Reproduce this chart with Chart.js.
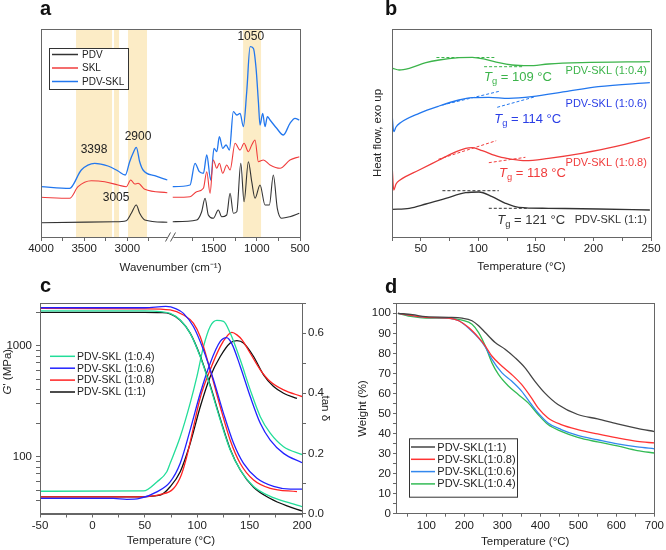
<!DOCTYPE html>
<html>
<head>
<meta charset="utf-8">
<script src="https://cdn.jsdelivr.net/npm/chart.js@4.4.1/dist/chart.umd.min.js"></script>
<style>
  body { margin: 0; background: #fff; width: 666px; height: 550px; position: relative; overflow: hidden; font-family: "Liberation Sans", Arial, sans-serif; }
  .panel { position: absolute; width: 333px; height: 275px; }
  .tag { position: absolute; font-weight: bold; font-size: 20px; line-height: 20px; color: #111; }
</style>
</head>
<body>
<div class="panel" style="left:0;top:0"><canvas id="chartA" width="333" height="275"></canvas></div>
<div class="panel" style="left:333px;top:0"><canvas id="chartB" width="333" height="275"></canvas></div>
<div class="panel" style="left:0;top:275px"><canvas id="chartC" width="333" height="275"></canvas></div>
<div class="panel" style="left:333px;top:275px"><canvas id="chartD" width="333" height="275"></canvas></div>
<div class="tag" style="left:40px;top:-2px">a</div>
<div class="tag" style="left:385px;top:-2px">b</div>
<div class="tag" style="left:40px;top:275px">c</div>
<div class="tag" style="left:385px;top:276px">d</div>
<script>
// ---- a: FTIR (wavenumber, arbitrary absorbance) ----
const pdvWave = [4000, 3146, 3012, 2954, 2896, 2857, 2798, 2537, 1974, 1697, 1639, 1600, 1562, 1504, 1446, 1407, 1349, 1310, 1272, 1232, 1186, 1148, 1098, 1059, 1021, 963, 905, 855, 809, 763, 713, 616, 508];
const pdvAbs = [14.3, 15.3, 16.3, 23.7, 32, 23.7, 17, 14.7, 15.3, 17, 25.3, 38.7, 22, 18.7, 27, 20.3, 22, 43.7, 23.7, 25.3, 73.7, 35.3, 75.3, 55.3, 38.7, 52, 32, 32, 62, 28.7, 18.7, 20.3, 23.7];
const sklWave = [4000, 3668, 3571, 3417, 3262, 3108, 3012, 2961, 2914, 2876, 2798, 2537, 1974, 1774, 1697, 1619, 1580, 1542, 1504, 1464, 1434, 1395, 1349, 1310, 1252, 1194, 1148, 1098, 1059, 1021, 982, 924, 847, 731, 616, 508];
const sklAbs = [39.7, 38.7, 50.3, 56.3, 55.3, 52, 50.3, 57, 53, 53.7, 47.7, 44.3, 39.7, 40.3, 45.3, 48.7, 65.3, 43.7, 77, 68.7, 73.7, 63.7, 72, 67, 93.7, 87, 93.7, 85.3, 92, 97, 75.3, 77, 72, 68.7, 77, 80.3];
const blendWave = [4000, 3668, 3533, 3378, 3224, 3108, 3023, 2973, 2934, 2896, 2857, 2818, 2683, 2537, 1974, 1774, 1716, 1666, 1619, 1580, 1534, 1496, 1464, 1434, 1395, 1356, 1318, 1272, 1232, 1194, 1156, 1117, 1078, 1040, 1009, 982, 963, 932, 905, 878, 847, 770, 693, 616, 558, 508];
const blendAbs = [50.3, 48.7, 67, 73.7, 71, 66, 62, 75.3, 83.7, 89.7, 75.3, 67, 61.3, 57, 50.3, 52, 73.7, 65.3, 63.7, 82, 57, 88.7, 85.3, 100.3, 88.7, 92, 87, 125.3, 122, 123.7, 110.3, 145.3, 190.3, 188.7, 168.7, 135.3, 112, 123.7, 110.3, 120.3, 117, 108.7, 102, 113.7, 118.7, 117];
const bandFrom = [3594, 3154, 2992, 1159];
const bandTo = [3177, 3096, 2772, 951];
const waveLabels = [4000, 3500, 3000, 1500, 1000, 500];
const waveTicks = [4000, 3750, 3500, 3250, 3000, 2750, 1750, 1500, 1250, 1000, 750, 500];

// ---- b: DSC (temperature, arbitrary heat flow) ----
const dscT04 = [25.6, 31.3, 40, 54.4, 65.9, 83.2, 94.7, 106.3, 117.8, 129.3, 143.7, 161, 189.8, 249];
const dscH04 = [168.7, 167, 168.7, 174.3, 177, 179.3, 179.7, 177.7, 174.3, 172, 171.3, 173, 174.3, 175.3];
const dscT06 = [25, 26.5, 28.5, 32, 48.6, 65.9, 83.2, 94.7, 109.1, 126.4, 146.6, 175.4, 204.2, 249];
const dscH06 = [123.7, 105.3, 110, 114, 123.7, 131, 137, 139.3, 139.7, 138.7, 140.3, 145.3, 150.3, 154.3];
const dscT08 = [25, 26.5, 28.5, 32, 48.6, 65.9, 77.4, 89, 94.7, 103.4, 117.8, 129.3, 140.9, 161, 189.8, 218.7, 249];
const dscH08 = [73.7, 47, 53, 57, 67, 77, 83.7, 88.7, 89.3, 86.3, 80.3, 77.7, 76.3, 78.7, 83.7, 90.3, 99.7];
const dscT11 = [25, 40, 54.4, 71.7, 89, 100.5, 112, 123.6, 135.1, 161, 204.2, 249];
const dscH11 = [27.7, 28.7, 33, 38.7, 44.3, 45, 40.3, 33.7, 29.7, 28.7, 28, 27];
// tangent construction lines [T1, H1, T2, H2]
const tan04 = [[63.6, 179.5, 113.9, 179.5], [105, 170.3, 139.6, 170.3]];
const tan06 = [[68.8, 132, 119.2, 146], [116.4, 129.7, 149.5, 140.3]];
const tan08 = [[65.3, 77.7, 115.5, 96.3], [109.1, 74.3, 140.9, 79.7]];
const tan11 = [[68.8, 46.3, 117.8, 46.3], [109.1, 28.7, 143.7, 28.7]];
const tgValues = [109, 114, 118, 121];

// ---- c: DMA ----
const gT04 = [-50, 50, 65, 74.2, 83.8, 93.3, 102.9, 112.4, 122, 131.5, 141.1, 153.8, 169.7, 185.7, 200];
const gG04 = [2060, 2060, 2030, 1958, 1706, 1294, 796, 428, 214, 115, 76, 54, 44, 39, 35.5];
const gT06 = [-50, 50, 70, 80, 86.9, 96.5, 106, 115.6, 125.1, 134.7, 144.2, 157, 172.9, 188.8, 200];
const gG06 = [2200, 2200, 2260, 2150, 1958, 1483, 915, 491, 246, 132, 87, 64, 54, 51, 51];
const gT08 = [-50, 50, 74.2, 86.9, 96.5, 102.9, 112.4, 122, 131.5, 141.1, 153.8, 169.7, 195.2];
const gG08 = [2170, 2150, 2100, 1892, 1592, 1205, 604, 282, 141, 87, 61.7, 51.9, 48.4];
const gT11 = [-50, 50, 65, 74.2, 83.8, 93.3, 102.9, 112.4, 122, 131.5, 141.1, 153.8, 169.7, 185.7, 200];
const gG11 = [2000, 2000, 1990, 1940, 1700, 1300, 810, 440, 220, 117, 76, 53, 42, 36, 32.5];
const dT04 = [-50, 48.7, 61.5, 71, 74.2, 83.8, 93.3, 99.7, 106, 112.4, 118.8, 125.1, 131.5, 141.1, 150.6, 160.2, 169.7, 182.4, 200];
const dD04 = [0.074, 0.075, 0.105, 0.139, 0.167, 0.255, 0.367, 0.455, 0.555, 0.622, 0.642, 0.639, 0.6, 0.511, 0.411, 0.322, 0.267, 0.222, 0.196];
const dT06 = [-50, 20, 32.8, 45, 61.5, 74.2, 83.8, 93.3, 102.9, 112.4, 122, 128, 133, 141.1, 150.6, 160.2, 169.7, 182.4, 200];
const dD06 = [0.05, 0.05, 0.047, 0.05, 0.072, 0.105, 0.167, 0.278, 0.4, 0.5, 0.572, 0.585, 0.565, 0.489, 0.389, 0.3, 0.244, 0.2, 0.169];
const dT08 = [-50, 40, 64.6, 77.4, 85, 90.1, 96, 102.9, 112.4, 122, 128.3, 133.1, 137.9, 142.6, 150.6, 160.2, 169.7, 182.4, 200];
const dD08 = [0.055, 0.055, 0.063, 0.083, 0.13, 0.19, 0.28, 0.385, 0.478, 0.555, 0.589, 0.602, 0.594, 0.578, 0.533, 0.478, 0.439, 0.411, 0.389];
const dT11 = [-50, 40, 64.6, 74.2, 83.8, 93.3, 102.9, 112.4, 122, 131.5, 137.9, 144.2, 153.8, 163.3, 172.9, 182.4, 195.2];
const dD11 = [0.055, 0.055, 0.061, 0.089, 0.139, 0.233, 0.355, 0.455, 0.522, 0.567, 0.575, 0.567, 0.522, 0.461, 0.422, 0.4, 0.383];

// ---- d: TGA ----
const tgaT11 = [25, 63.5, 98.3, 159, 193.9, 220, 237.4, 254.8, 280.9, 307, 333, 359.1, 385.2, 411.3, 446.1, 498.3, 550.4, 602.6, 654.8, 700];
const tgaW11 = [100, 99.3, 98.3, 98, 97.6, 96.3, 93.8, 90.4, 85.4, 82.1, 77.9, 72.9, 66.2, 60.3, 54.5, 49.5, 47.3, 44.8, 42.6, 41];
const tgaT08 = [25, 63.5, 98.3, 159, 185.2, 211.3, 237.4, 254.8, 272.2, 298.3, 324.3, 350.4, 376.5, 393.9, 420, 454.8, 498.3, 550.4, 602.6, 654.8, 700];
const tgaW08 = [100, 98.8, 98, 97.6, 96.3, 92.9, 87.9, 83.8, 78.7, 73.7, 69.5, 64.5, 57.8, 52.8, 47.8, 44.5, 42, 39.8, 37.8, 36.1, 35.3];
const tgaT06 = [25, 63.5, 98.3, 159, 185.2, 211.3, 237.4, 254.8, 272.2, 298.3, 324.3, 350.4, 376.5, 393.9, 420, 454.8, 498.3, 550.4, 602.6, 654.8, 700];
const tgaW06 = [100, 98.8, 98, 97.6, 96.3, 92.6, 87.6, 83.3, 77.1, 70.4, 66.2, 61.2, 54.5, 50.3, 45.3, 42, 39.1, 36.9, 34.8, 33.3, 32.4];
const tgaT04 = [25, 63.5, 98.3, 159, 193.9, 220, 237.4, 254.8, 272.2, 289.6, 315.7, 341.7, 367.8, 393.9, 420, 454.8, 498.3, 550.4, 602.6, 654.8, 700];
const tgaW04 = [100, 98.3, 97.6, 97.5, 96.6, 94.6, 90.4, 83.8, 75.4, 69.5, 63.7, 59.5, 55.3, 49.5, 44.5, 41.1, 38.1, 35.8, 33.8, 31.5, 30.3];

const FONT = '"Liberation Sans", Arial, sans-serif';
Chart.defaults.font.family = FONT;
Chart.defaults.font.size = 11.5;
Chart.defaults.color = '#222';
Chart.defaults.animation = false;
Chart.defaults.plugins.legend.display = false;
Chart.defaults.plugins.tooltip.enabled = false;
Chart.defaults.elements.point.radius = 0;
Chart.defaults.elements.line.borderWidth = 1.3;
Chart.defaults.elements.line.cubicInterpolationMode = 'monotone';

const pts = (xs, ys) => xs.map((x, i) => ({ x, y: ys[i] }));
const steps = (a, b, s) => { const out = []; for (let v = a; v <= b + 1e-9; v += s) out.push(+v.toFixed(3)); return out; };
const setTicks = values => scale => { scale.ticks = values.map(value => ({ value })); };
const fixWidth = w => scale => { scale.width = w; };
const fixHeight = h => scale => { scale.height = h; };
const tickGrid = len => ({ drawOnChartArea: false, tickLength: len, color: '#666' });

// broken wavenumber axis: 4000-2500 | 2000-500
const BREAK_HI = 2500, BREAK_LO = 2000;
const toU = w => (w >= BREAK_HI ? 4000 - w : (4000 - BREAK_HI) + (BREAK_LO - w));
const fromU = u => Math.round(u <= 4000 - BREAK_HI ? 4000 - u : BREAK_LO - (u - (4000 - BREAK_HI)));
const spectrum = (waves, vals) => {
  const out = [];
  waves.forEach((w, i) => {
    if (i > 0 && waves[i - 1] >= BREAK_HI && w <= BREAK_LO) out.push({ x: toU(BREAK_HI), y: null });
    out.push({ x: toU(w), y: vals[i] });
  });
  return out;
};

function drawParts(ctx, parts, x, y, align, size, color) {
  const fontFor = p => `${p.italic ? 'italic ' : ''}${p.sub ? size * 0.72 : size}px ${FONT}`;
  let total = 0;
  const widths = parts.map(p => { ctx.font = fontFor(p); const w = ctx.measureText(p.text).width; total += w; return w; });
  let cx = align === 'right' ? x - total : align === 'center' ? x - total / 2 : x;
  ctx.fillStyle = color;
  ctx.textAlign = 'left';
  ctx.textBaseline = 'middle';
  parts.forEach((p, i) => {
    ctx.font = fontFor(p);
    ctx.fillText(p.text, cx, p.sub ? y + size * 0.32 : y);
    cx += widths[i];
  });
}

const framePlugin = {
  id: 'frame',
  afterDatasetsDraw(chart) {
    const { ctx, chartArea: a } = chart;
    ctx.save();
    ctx.strokeStyle = '#666';
    ctx.lineWidth = 1;
    ctx.strokeRect(Math.round(a.left) + 0.5, Math.round(a.top) + 0.5, Math.round(a.width), Math.round(a.height));
    ctx.restore();
  }
};

const bandsPlugin = {
  id: 'bands',
  beforeDatasetsDraw(chart, args, opts) {
    const { ctx, chartArea: a, scales: { x } } = chart;
    ctx.save();
    ctx.fillStyle = opts.color;
    opts.from.forEach((w, i) => {
      const x1 = x.getPixelForValue(opts.map(w)), x2 = x.getPixelForValue(opts.map(opts.to[i]));
      ctx.fillRect(x1, a.top, x2 - x1, a.height);
    });
    ctx.restore();
  }
};

const notesPlugin = {
  id: 'notes',
  afterDraw(chart, args, opts) {
    const ctx = chart.ctx;
    (opts.items || []).forEach(n => {
      ctx.save();
      let px = n.px, py = n.py;
      if (px === undefined) {
        px = chart.scales.x.getPixelForValue(n.x);
        py = chart.scales[n.axis || 'y'].getPixelForValue(n.y);
      }
      ctx.translate(px, py);
      if (n.rotate) ctx.rotate(n.rotate * Math.PI / 180);
      drawParts(ctx, n.parts, 0, 0, n.align || 'left', n.size || 12, n.color || '#222');
      ctx.restore();
    });
  }
};

const keyPlugin = {
  id: 'key',
  afterDraw(chart, args, o) {
    const ctx = chart.ctx;
    ctx.save();
    if (o.box) {
      ctx.fillStyle = '#fff';
      ctx.strokeStyle = '#333';
      ctx.lineWidth = 1;
      ctx.fillRect(o.box[0], o.box[1], o.box[2], o.box[3]);
      ctx.strokeRect(o.box[0] + 0.5, o.box[1] + 0.5, o.box[2], o.box[3]);
    }
    chart.data.datasets.filter(d => d.label).forEach((d, i) => {
      const y = o.y + i * o.step;
      ctx.strokeStyle = d.borderColor;
      ctx.lineWidth = 1.5;
      ctx.beginPath();
      ctx.moveTo(o.x1, y);
      ctx.lineTo(o.x2, y);
      ctx.stroke();
      ctx.fillStyle = '#222';
      ctx.font = `${o.size}px ${FONT}`;
      ctx.textAlign = 'left';
      ctx.textBaseline = 'middle';
      ctx.fillText(d.label, o.tx, y + 0.5);
    });
    ctx.restore();
  }
};

const breakPlugin = {
  id: 'axisBreak',
  afterDraw(chart, args, opts) {
    const { ctx, chartArea: a, scales: { x } } = chart;
    const bx = x.getPixelForValue(opts.at), by = a.bottom;
    ctx.save();
    ctx.fillStyle = '#fff';
    ctx.fillRect(bx - 3, by - 2, 6, 4);
    ctx.strokeStyle = '#555';
    ctx.lineWidth = 1;
    [-2.5, 2.5].forEach(dx => {
      ctx.beginPath();
      ctx.moveTo(bx + dx - 2.5, by + 4.5);
      ctx.lineTo(bx + dx + 2.5, by - 4.5);
      ctx.stroke();
    });
    ctx.restore();
  }
};

// ---------- panel a ----------
new Chart(document.getElementById('chartA'), {
  type: 'line',
  data: {
    datasets: [
      { label: 'PDV', data: spectrum(pdvWave, pdvAbs), borderColor: '#333333', borderWidth: 1.1 },
      { label: 'SKL', data: spectrum(sklWave, sklAbs), borderColor: '#f03c3c', borderWidth: 1.1 },
      { label: 'PDV-SKL', data: spectrum(blendWave, blendAbs), borderColor: '#2277ee', borderWidth: 1.3 },
    ],
  },
  options: {
    responsive: false,
    layout: { padding: { left: 41, top: 29, right: 33, bottom: 0 } },
    scales: {
      x: {
        type: 'linear', min: 0, max: 3000,
        afterBuildTicks: setTicks(waveTicks.map(toU)),
        afterFit: fixHeight(38),
        grid: tickGrid(4), border: { color: '#666' },
        ticks: { autoSkip: false, maxRotation: 0, padding: 1, callback: v => (waveLabels.includes(fromU(v)) ? String(fromU(v)) : '') },
        title: { display: true, text: 'Wavenumber (cm⁻¹)', padding: { top: 0, bottom: 0 } },
      },
      y: { display: false, min: 0, max: 208 },
    },
    plugins: {
      bands: { from: bandFrom, to: bandTo, map: toU, color: '#fcecc6' },
      notes: {
        items: [
          { x: toU(3386), y: 87, parts: [{ text: '3398' }], align: 'center' },
          { x: toU(2876), y: 100, parts: [{ text: '2900' }], align: 'center' },
          { x: toU(3130), y: 39, parts: [{ text: '3005' }], align: 'center' },
          { x: toU(1070), y: 200, parts: [{ text: '1050' }], align: 'center' },
        ],
      },
      key: { box: [49, 48, 79, 41], x1: 52, x2: 78, tx: 82, y: 54.5, step: 13.5, size: 10 },
      axisBreak: { at: toU(BREAK_HI) },
    },
  },
  plugins: [bandsPlugin, framePlugin, notesPlugin, keyPlugin, breakPlugin],
});

// ---------- panel b ----------
const dash = (segs, color) => segs.map(s => ({
  data: [{ x: s[0], y: s[1] }, { x: s[2], y: s[3] }], borderColor: color, borderWidth: 1, borderDash: [3, 2],
}));
const tgLabel = (value, x, y, color) => ({
  x, y, color, size: 13,
  parts: [{ text: 'T', italic: true }, { text: 'g', sub: true }, { text: ` = ${value} °C` }],
});
const dscColors = ['#3cb44b', '#2277ee', '#f03c3c', '#333333'];
const dscText = ['#3cb44b', '#2a3ee6', '#f03c3c', '#333333'];
new Chart(document.getElementById('chartB'), {
  type: 'line',
  data: {
    datasets: [
      { data: pts(dscT04, dscH04), borderColor: dscColors[0] },
      { data: pts(dscT06, dscH06), borderColor: dscColors[1] },
      { data: pts(dscT08, dscH08), borderColor: dscColors[2] },
      { data: pts(dscT11, dscH11), borderColor: dscColors[3] },
      ...dash(tan04, dscColors[0]), ...dash(tan06, dscColors[1]),
      ...dash(tan08, dscColors[2]), ...dash(tan11, dscColors[3]),
    ],
  },
  options: {
    responsive: false,
    layout: { padding: { left: 0, top: 29, right: 15, bottom: 0 } },
    scales: {
      x: {
        type: 'linear', min: 25, max: 250,
        afterBuildTicks: setTicks(steps(25, 250, 25)),
        afterFit: fixHeight(38),
        grid: tickGrid(4), border: { color: '#666' },
        ticks: { autoSkip: false, maxRotation: 0, padding: 1, callback: v => (v % 50 === 0 ? String(v) : '') },
        title: { display: true, text: 'Temperature (°C)', padding: { top: 0, bottom: 1.4 } },
      },
      y: {
        min: 0, max: 208,
        afterFit: fixWidth(59),
        grid: { display: false }, border: { display: false }, ticks: { display: false },
        title: { display: true, text: 'Heat flow, exo up', padding: { top: 38, bottom: 0 } },
      },
    },
    plugins: {
      notes: {
        items: [
          tgLabel(tgValues[0], 104.9, 160, dscText[0]),
          tgLabel(tgValues[1], 113.8, 118, dscText[1]),
          tgLabel(tgValues[2], 118, 64, dscText[2]),
          tgLabel(tgValues[3], 116.4, 17, dscText[3]),
          { x: 246.4, y: 166, align: 'right', size: 11, color: dscText[0], parts: [{ text: 'PDV-SKL (1:0.4)' }] },
          { x: 246.4, y: 132.7, align: 'right', size: 11, color: dscText[1], parts: [{ text: 'PDV-SKL (1:0.6)' }] },
          { x: 246.4, y: 73.7, align: 'right', size: 11, color: dscText[2], parts: [{ text: 'PDV-SKL (1:0.8)' }] },
          { x: 246.4, y: 17, align: 'right', size: 11, color: dscText[3], parts: [{ text: 'PDV-SKL (1:1)' }] },
        ],
      },
    },
  },
  plugins: [framePlugin, notesPlugin],
});

// ---------- panel c ----------
const dmaColors = ['#22dd99', '#2222ff', '#ff2222', '#111111'];
new Chart(document.getElementById('chartC'), {
  type: 'line',
  data: {
    datasets: [
      { label: 'PDV-SKL (1:0.4)', data: pts(gT04, gG04), borderColor: dmaColors[0], yAxisID: 'y' },
      { label: 'PDV-SKL (1:0.6)', data: pts(gT06, gG06), borderColor: dmaColors[1], yAxisID: 'y' },
      { label: 'PDV-SKL (1:0.8)', data: pts(gT08, gG08), borderColor: dmaColors[2], yAxisID: 'y' },
      { label: 'PDV-SKL (1:1)', data: pts(gT11, gG11), borderColor: dmaColors[3], yAxisID: 'y' },
      { data: pts(dT04, dD04), borderColor: dmaColors[0], yAxisID: 'y2' },
      { data: pts(dT06, dD06), borderColor: dmaColors[1], yAxisID: 'y2' },
      { data: pts(dT08, dD08), borderColor: dmaColors[2], yAxisID: 'y2' },
      { data: pts(dT11, dD11), borderColor: dmaColors[3], yAxisID: 'y2' },
    ],
  },
  options: {
    responsive: false,
    layout: { padding: { left: 0, top: 28, right: 0, bottom: 0 } },
    scales: {
      x: {
        type: 'linear', min: -50, max: 200,
        afterBuildTicks: setTicks(steps(-50, 200, 25)),
        afterFit: fixHeight(36.5),
        grid: tickGrid(4), border: { color: '#666' },
        ticks: { autoSkip: false, maxRotation: 0, padding: 1, callback: v => (v % 50 === 0 ? String(v) : '') },
        title: { display: true, text: 'Temperature (°C)', padding: { top: 0, bottom: 2.4 } },
      },
      y: {
        type: 'logarithmic', position: 'left', min: 30.8, max: 2427,
        afterBuildTicks: setTicks([40, 50, 60, 70, 80, 90, 100, 200, 300, 400, 500, 600, 700, 800, 900, 1000, 2000]),
        afterFit: fixWidth(40),
        grid: tickGrid(4), border: { color: '#666' },
        ticks: { autoSkip: false, padding: 4, callback: v => (v === 100 || v === 1000 ? String(v) : '') },
      },
      y2: {
        type: 'linear', position: 'right', min: 0, max: 0.7,
        afterBuildTicks: setTicks(steps(0, 0.7, 0.1)),
        afterFit: fixWidth(31),
        grid: tickGrid(4), border: { color: '#666' },
        ticks: { autoSkip: false, padding: 2, callback: v => (Math.round(v * 10) % 2 === 0 ? v.toFixed(1) : '') },
        title: { display: true, text: 'tan δ', padding: { top: 1, bottom: 0 } },
      },
    },
    plugins: {
      notes: {
        items: [{ px: 8, py: 96.7, rotate: -90, align: 'center', size: 11.5, parts: [{ text: 'G', italic: true }, { text: "' (MPa)" }] }],
      },
      key: { x1: 50, x2: 75, tx: 77, y: 81.3, step: 11.9, size: 10.5 },
    },
  },
  plugins: [framePlugin, notesPlugin, keyPlugin],
});

// ---------- panel d ----------
new Chart(document.getElementById('chartD'), {
  type: 'line',
  data: {
    datasets: [
      { label: 'PDV-SKL(1:1)', data: pts(tgaT11, tgaW11), borderColor: '#444444' },
      { label: 'PDV-SKL(1:0.8)', data: pts(tgaT08, tgaW08), borderColor: '#ff3333' },
      { label: 'PDV-SKL(1:0.6)', data: pts(tgaT06, tgaW06), borderColor: '#3388ee' },
      { label: 'PDV-SKL(1:0.4)', data: pts(tgaT04, tgaW04), borderColor: '#33bb55' },
    ],
  },
  options: {
    responsive: false,
    layout: { padding: { left: 0, top: 28.3, right: 9, bottom: 0 } },
    scales: {
      x: {
        type: 'linear', min: 20, max: 700,
        afterBuildTicks: setTicks(steps(50, 700, 50)),
        afterFit: fixHeight(36.3),
        grid: tickGrid(3), border: { color: '#666' },
        ticks: { autoSkip: false, maxRotation: 0, padding: 2, callback: v => (v % 100 === 0 ? String(v) : '') },
        title: { display: true, text: 'Temperature (°C)', padding: { top: 0, bottom: 1.4 } },
      },
      y: {
        min: 0, max: 105,
        afterBuildTicks: setTicks(steps(0, 105, 5)),
        afterFit: fixWidth(63),
        grid: tickGrid(3), border: { color: '#666' },
        ticks: { autoSkip: false, padding: 2, callback: v => (v % 10 === 0 && v <= 100 ? String(v) : '') },
        title: { display: true, text: 'Weight (%)', padding: { top: 23, bottom: 0 } },
      },
    },
    plugins: {
      key: { box: [76, 163.3, 108, 58.4], x1: 78, x2: 102, tx: 104.3, y: 172, step: 12.3, size: 11 },
    },
  },
  plugins: [framePlugin, keyPlugin],
});
</script>
</body>
</html>
